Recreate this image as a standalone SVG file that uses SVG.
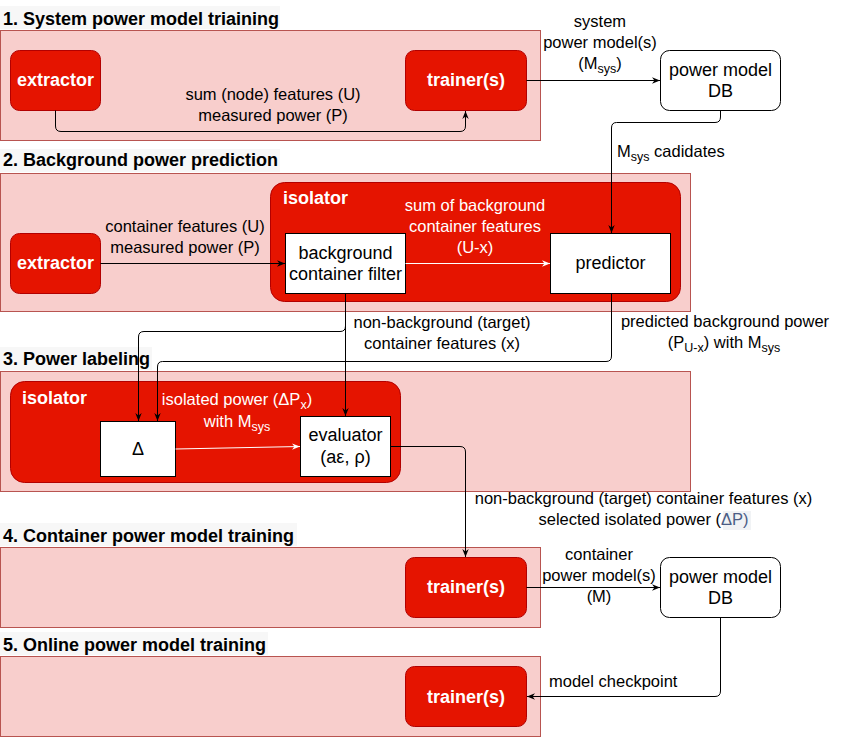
<svg xmlns="http://www.w3.org/2000/svg" width="845" height="737" viewBox="0 0 845 737">
<style>
.panel{fill:#f8cecc;stroke:#b85450;stroke-width:1}
.red{fill:#e51400;stroke:#b20000;stroke-width:1}
.box{fill:#fff;stroke:#000;stroke-width:1}
.tbg{fill:#f7f7f7}
text{font-family:"Liberation Sans",Arial,Helvetica,sans-serif;font-size:16.5px;fill:#000}
.n{font-size:18px}
.b{font-weight:bold;font-size:18px}
.w{fill:#fff}
.c{text-anchor:middle}
.edge{fill:none;stroke:#000;stroke-width:1}
.wedge{fill:none;stroke:#fff;stroke-width:1}
.sub{font-size:12.5px}
.hl{fill:#4b5d85}
</style>
<defs>
<marker id="ah" viewBox="0 0 10 10" refX="10" refY="5" markerWidth="8" markerHeight="8" markerUnits="userSpaceOnUse" orient="auto">
<path d="M0,1 L10,5 L0,9 L3,5 z" fill="#000"/>
</marker>
<marker id="awh" viewBox="0 0 10 10" refX="10" refY="5" markerWidth="8" markerHeight="8" markerUnits="userSpaceOnUse" orient="auto">
<path d="M0,1 L10,5 L0,9 L3,5 z" fill="#fff"/>
</marker>
</defs>

<!-- section titles and panels -->
<g id="section1">
<rect class="tbg" x="0" y="6" width="280" height="23"/>
<text class="b" x="3" y="25">1. System power model triaining</text>
<rect class="panel" x="0.5" y="30.5" width="540" height="110"/>
</g>
<g id="section2">
<rect class="tbg" x="0" y="149" width="280" height="23"/>
<text class="b" x="3" y="166">2. Background power prediction</text>
<rect class="panel" x="0.5" y="173.5" width="690" height="138"/>
</g>
<g id="section3">
<rect class="tbg" x="0" y="347" width="152" height="23"/>
<text class="b" x="3" y="365">3. Power labeling</text>
<rect class="panel" x="0.5" y="371.5" width="690" height="120"/>
</g>
<g id="section4">
<rect class="tbg" x="0" y="523" width="297" height="23"/>
<text class="b" x="3" y="542">4. Container power model training</text>
<rect class="panel" x="0.5" y="547.5" width="540" height="80"/>
</g>
<g id="section5">
<rect class="tbg" x="0" y="632" width="268" height="23"/>
<text class="b" x="3" y="651">5. Online power model training</text>
<rect class="panel" x="0.5" y="656.5" width="540" height="80"/>
</g>

<!-- isolator containers -->
<g id="isolator1">
<rect class="red" x="270.5" y="182.5" width="410" height="119" rx="14"/>
<text class="b w" x="283" y="204">isolator</text>
</g>
<g id="isolator2">
<rect class="red" x="10.5" y="381.5" width="390" height="101" rx="14"/>
<text class="b w" x="22" y="404">isolator</text>
</g>

<!-- nodes -->
<g id="extractor1">
<rect class="red" x="10.5" y="50.5" width="90" height="60" rx="9"/>
<text class="b w c" x="55.5" y="86">extractor</text>
</g>
<g id="trainer1">
<rect class="red" x="405.5" y="50.5" width="121" height="60" rx="9"/>
<text class="b w c" x="466" y="86">trainer(s)</text>
</g>
<g id="db1">
<rect class="box" x="660.5" y="50.5" width="120" height="60" rx="9"/>
<text class="n c" x="720.5" y="76">power model</text>
<text class="n c" x="720.5" y="97">DB</text>
</g>
<g id="extractor2">
<rect class="red" x="10.5" y="233.5" width="90" height="60" rx="9"/>
<text class="b w c" x="55.5" y="269">extractor</text>
</g>
<g id="filter">
<rect class="box" x="285.5" y="233.5" width="120" height="60"/>
<text class="n c" x="345.5" y="259">background</text>
<text class="n c" x="345.5" y="280">container filter</text>
</g>
<g id="predictor">
<rect class="box" x="550.5" y="233.5" width="120" height="60"/>
<text class="n c" x="610.5" y="269">predictor</text>
</g>
<g id="delta">
<rect class="box" x="100.5" y="421.5" width="75" height="55"/>
<text class="n c" x="138" y="455">Δ</text>
</g>
<g id="evaluator">
<rect class="box" x="300.5" y="416.5" width="90" height="60"/>
<text class="n c" x="345.5" y="441">evaluator</text>
<text class="n c" x="345.5" y="463">(aε, ρ)</text>
</g>
<g id="trainer4">
<rect class="red" x="405.5" y="557.5" width="121" height="60" rx="9"/>
<text class="b w c" x="466" y="593">trainer(s)</text>
</g>
<g id="db2">
<rect class="box" x="660.5" y="557.5" width="120" height="60" rx="9"/>
<text class="n c" x="720.5" y="583">power model</text>
<text class="n c" x="720.5" y="604">DB</text>
</g>
<g id="trainer5">
<rect class="red" x="405.5" y="666.5" width="121" height="60" rx="9"/>
<text class="b w c" x="466" y="703">trainer(s)</text>
</g>

<!-- connectors -->
<g id="connectors">
<path class="edge" d="M55.5,110.5 V126 Q55.5,131.5 61,131.5 H460 Q465.5,131.5 465.5,126 V111" marker-end="url(#ah)"/>
<path class="edge" d="M526.5,80.5 H660" marker-end="url(#ah)"/>
<path class="edge" d="M720.5,110.5 V117 Q720.5,122.5 715,122.5 H616.5 Q611.5,122.5 611.5,128 V233" marker-end="url(#ah)"/>
<path class="edge" d="M100.5,263.5 H285" marker-end="url(#ah)"/>
<path class="wedge" d="M405.5,263.5 H550" marker-end="url(#awh)"/>
<path class="edge" d="M345.5,293.5 V326 Q345.5,331.5 340,331.5 H144 Q138.5,331.5 138.5,337 V421" marker-end="url(#ah)"/>
<path class="edge" d="M345.5,293.5 V416" marker-end="url(#ah)"/>
<path class="edge" d="M611.5,293.5 V356 Q611.5,361.5 606,361.5 H162.5 Q157.5,361.5 157.5,367 V421" marker-end="url(#ah)"/>
<path class="wedge" d="M175.5,449 L300,446.5" marker-end="url(#awh)"/>
<path class="edge" d="M390.5,446.5 H460 Q465.5,446.5 465.5,452 V557" marker-end="url(#ah)"/>
<path class="edge" d="M526.5,587.5 H660" marker-end="url(#ah)"/>
<path class="edge" d="M720.5,617.5 V691 Q720.5,696.5 715,696.5 H527" marker-end="url(#ah)"/>
</g>

<!-- connector labels -->
<g id="labels">
<text class="c" x="273" y="100">sum (node) features (U)</text>
<text class="c" x="273" y="121">measured power (P)</text>
<text class="c" x="600" y="27">system</text>
<text class="c" x="600" y="48">power model(s)</text>
<text class="c" x="600" y="69">(M<tspan class="sub" dy="4">sys</tspan><tspan dy="-4">)</tspan></text>
<text x="617" y="157">M<tspan class="sub" dy="4">sys</tspan><tspan dy="-4"> cadidates</tspan></text>
<text class="c" x="185" y="232">container features (U)</text>
<text class="c" x="185" y="253">measured power (P)</text>
<text class="c w" x="475" y="211">sum of background</text>
<text class="c w" x="475" y="232">container features</text>
<text class="c w" x="475" y="253">(U-x)</text>
<text class="c" x="442" y="328">non-background (target)</text>
<text class="c" x="442" y="349">container features (x)</text>
<text class="c" x="725" y="327">predicted background power</text>
<text class="c" x="724" y="348">(P<tspan class="sub" dy="4">U-x</tspan><tspan dy="-4">) with M</tspan><tspan class="sub" dy="4">sys</tspan></text>
<text class="c w" x="237" y="405">isolated power (ΔP<tspan class="sub" dy="4">x</tspan><tspan dy="-4">)</tspan></text>
<text class="c w" x="237" y="427">with M<tspan class="sub" dy="4">sys</tspan></text>
<text class="c" x="643.5" y="504">non-background (target) container features (x)</text>
<rect x="723" y="511" width="28" height="19" fill="#f1f3f5"/>
<text class="c" x="643.5" y="525">selected isolated power (<tspan class="hl">ΔP)</tspan></text>
<text class="c" x="599" y="560">container</text>
<text class="c" x="599" y="581">power model(s)</text>
<text class="c" x="599" y="602">(M)</text>
<text x="549" y="687">model checkpoint</text>
</g>
</svg>
